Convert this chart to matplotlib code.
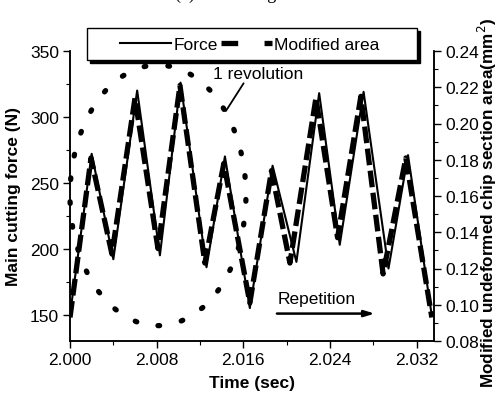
import matplotlib
matplotlib.use("Agg")
import matplotlib.pyplot as plt
from matplotlib.patches import Ellipse, Rectangle
from matplotlib.lines import Line2D
from matplotlib.ticker import MultipleLocator, FormatStrFormatter

plt.rcParams['font.family'] = ['Liberation Sans', 'DejaVu Sans']
plt.rcParams['lines.scale_dashes'] = False

# ---- data ----
force_time = [2.0000, 2.0020, 2.0040, 2.0062, 2.0083, 2.0102, 2.0126, 2.0143, 2.0166,
              2.0187, 2.0209, 2.0230, 2.0249, 2.0271, 2.0294, 2.0312, 2.0334]
force_val = [150, 272, 192, 320, 195, 326, 186, 270, 155,
             263, 190, 318, 203, 319, 185, 271, 149]

area_time = [2.0000, 2.00194, 2.00387, 2.0060, 2.00812, 2.01015, 2.01245, 2.0142, 2.0166,
             2.0186, 2.0203, 2.0227, 2.0247, 2.02685, 2.0289, 2.0310, 2.0334]
area_val = [0.093, 0.181, 0.128, 0.214, 0.131, 0.221, 0.123, 0.178, 0.101,
            0.174, 0.123, 0.214, 0.137, 0.215, 0.117, 0.181, 0.093]

x_ticks = [2.000, 2.008, 2.016, 2.024, 2.032]
left_ticks = [150, 200, 250, 300, 350]
right_ticks = [0.08, 0.10, 0.12, 0.14, 0.16, 0.18, 0.20, 0.22, 0.24]

W, H = 496, 406
fig = plt.figure(figsize=(W / 100, H / 100), dpi=100)
ax = fig.add_axes([70 / W, (H - 342) / H, (434 - 70) / W, (342 - 52) / H])
ax2 = ax.twinx()

ax.plot(force_time, force_val, color='black', lw=1.5, zorder=3)
ax2.plot(area_time, area_val, color='black', lw=3.8, linestyle=(0, (12, 4)), zorder=3)

ax.set_xlim(2.000, 2.0336)
ax.set_ylim(130, 350)
ax2.set_ylim(0.08, 0.24)

ax.set_xticks(x_ticks)
ax.xaxis.set_minor_locator(MultipleLocator(0.004))
ax.xaxis.set_major_formatter(FormatStrFormatter('%.3f'))
ax.set_yticks(left_ticks)
ax.yaxis.set_minor_locator(MultipleLocator(25))
ax2.set_yticks(right_ticks)
ax2.yaxis.set_minor_locator(MultipleLocator(0.01))
ax2.yaxis.set_major_formatter(FormatStrFormatter('%.2f'))

for a in (ax, ax2):
    a.tick_params(which='major', direction='out', length=5, width=1, labelsize=12.5, pad=3)
    a.tick_params(which='minor', direction='out', length=3, width=0.8)
    for s in a.spines.values():
        s.set_linewidth(1.1)
    a.spines['top'].set_visible(False)

ax.set_xlabel('Time (sec)', fontsize=12.5, fontweight='bold', labelpad=6)
ax.set_ylabel('Main cutting force (N)', fontsize=12.5, fontweight='bold', labelpad=6)
ax2.set_ylabel('Modified undeformed chip section area(mm$^2$)', fontsize=12.3,
               fontweight='bold')
ax2.yaxis.set_label_coords((476 - 70) / 364, (342 - 203) / 290)

# dotted ellipse marking one revolution
ell = Ellipse((2.00812, 240.5), 0.01624, 197.7, fill=False, edgecolor='black',
              lw=3.8, linestyle=(0, (1.2, 16)), capstyle='round', clip_on=False, zorder=4)
ax.add_patch(ell)

ax.annotate('1 revolution', xy=(2.01439, 304.5), xytext=(2.01319, 333.3),
            fontsize=12.5, va='center', ha='left',
            arrowprops=dict(arrowstyle='-', lw=1.3, color='black', shrinkA=0, shrinkB=0,
                            relpos=(0.36, 0.0)))
ax.text(2.01919, 162.1, 'Repetition', fontsize=12.5, va='center', ha='left')
ax.annotate('', xy=(2.02814, 150.8), xytext=(2.0191, 150.8),
            arrowprops=dict(arrowstyle='-|>,head_length=0.6,head_width=0.18', lw=1.8,
                            color='black', shrinkA=0, shrinkB=0))

# legend box with black shadow
bx0, bx1, by0, by1 = 87, 417, 29, 61
fig.patches.append(Rectangle(((bx0 + 3) / W, (H - by1 - 3) / H), (bx1 - bx0) / W,
                             (by1 - by0) / H, transform=fig.transFigure,
                             facecolor='black', edgecolor='black', zorder=5))
fig.patches.append(Rectangle((bx0 / W, (H - by1) / H), (bx1 - bx0) / W, (by1 - by0) / H,
                             transform=fig.transFigure, facecolor='white',
                             edgecolor='black', lw=1.0, zorder=6))
handles = [Line2D([], [], color='black', lw=1.5),
           Line2D([], [], color='black', lw=3.8, linestyle=(0, (12, 19)))]
leg = fig.legend(handles, ['Force', 'Modified area'], loc='center',
                 bbox_to_anchor=(250 / W, (H - 45) / H), ncol=2, frameon=False,
                 fontsize=12.5, handlelength=2.9, handletextpad=0.15, columnspacing=0.2)
leg.set_zorder(7)

fig.text(248 / W, 1 + 1 / H, '(c)   Rake angle  -5°', ha='center', va='baseline',
         fontsize=13, family='Liberation Serif')

fig.savefig('out.png', dpi=100)
